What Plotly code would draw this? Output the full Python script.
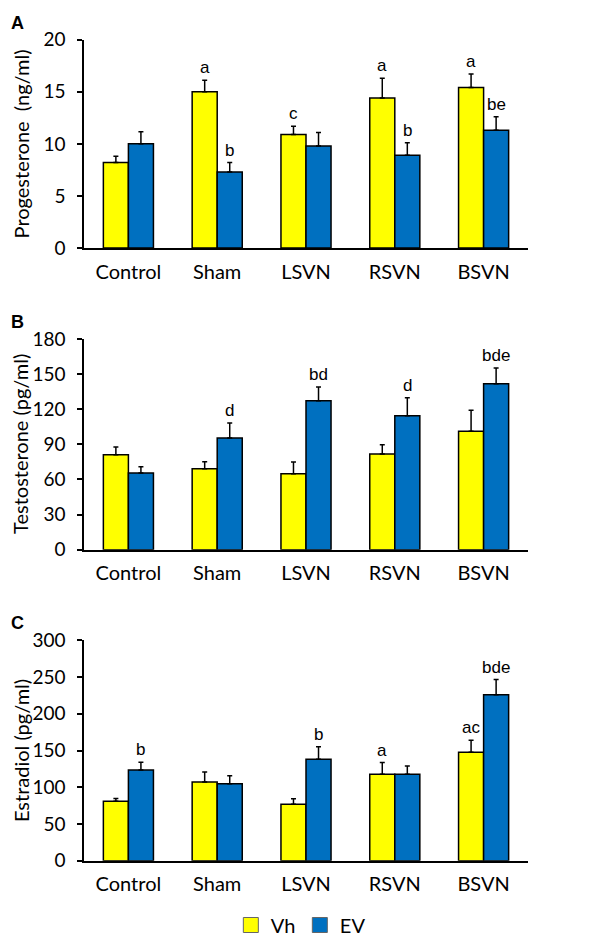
import plotly.graph_objects as go

# ---------------- data ----------------
categories = ["Control", "Sham", "LSVN", "RSVN", "BSVN"]
series_names = ["Vh", "EV"]

prog_vh = [8.2, 15.0, 10.9, 14.4, 15.4]
prog_vh_err = [0.6, 1.1, 0.8, 1.9, 1.3]
prog_ev = [10.0, 7.3, 9.8, 8.9, 11.3]
prog_ev_err = [1.15, 0.9, 1.3, 1.2, 1.3]
prog_vh_sig = ["", "a", "c", "a", "a"]
prog_ev_sig = ["", "b", "", "b", "be"]

testo_vh = [81.2, 69.2, 64.9, 81.7, 101.1]
testo_vh_err = [6.5, 6.0, 10.0, 8.0, 18.0]
testo_ev = [65.5, 95.4, 127.3, 114.5, 141.8]
testo_ev_err = [5.4, 12.8, 11.7, 15.4, 13.4]
testo_vh_sig = ["", "", "", "", ""]
testo_ev_sig = ["", "d", "bd", "d", "bde"]

estr_vh = [80.8, 107.1, 76.7, 117.6, 147.5]
estr_vh_err = [4.0, 13.6, 7.7, 16.0, 16.4]
estr_ev = [123.5, 104.9, 138.0, 117.6, 226.0]
estr_ev_err = [10.4, 10.9, 17.2, 11.3, 20.5]
estr_vh_sig = ["", "", "", "a", "ac"]
estr_ev_sig = ["b", "", "b", "", "bde"]

panel_titles = ["Progesterone  (ng/ml)", "Testosterone (pg/ml)", "Estradiol (pg/ml)"]
panel_letters = ["A", "B", "C"]
y_ranges = [[0, 20], [0, 180], [0, 300]]
y_dticks = [5, 30, 50]

# ---------------- style ----------------
W, H = 600, 936
ML, MR = 76, 79.5
PW = W - ML - MR
YELLOW = "#FFFF00"
BLUE = "#0070C0"
XTICK_FONT = dict(family="Lato", size=20, color="black")
YTICK_FONT = dict(family="Lato", size=19, color="black")
TITLE_FONT = dict(family="Lato", size=20, color="black")
SIG_FONT = dict(family="Liberation Sans", size=17, color="black")
LETTER_FONT = dict(family="Liberation Sans", size=18, color="black")
BW = 0.282  # bar width in category units

# panel plot areas in pixels (top, bottom)
panel_px = [(31.7, 240.0), (331.0, 541.7), (632.3, 852.7)]

panels = [
    (prog_vh, prog_vh_err, prog_ev, prog_ev_err, prog_vh_sig, prog_ev_sig),
    (testo_vh, testo_vh_err, testo_ev, testo_ev_err, testo_vh_sig, testo_ev_sig),
    (estr_vh, estr_vh_err, estr_ev, estr_ev_err, estr_vh_sig, estr_ev_sig),
]

idx = list(range(len(categories)))
fig = go.Figure()
annotations = []
layout_axes = {}

for k, (vh, vh_err, ev, ev_err, vh_sig, ev_sig) in enumerate(panels):
    xa = "x" if k == 0 else f"x{k+1}"
    ya = "y" if k == 0 else f"y{k+1}"
    for vals, errs, color, off in ((vh, vh_err, YELLOW, -BW), (ev, ev_err, BLUE, 0.0)):
        fig.add_trace(go.Bar(
            x=idx, y=vals, width=BW, offset=off,
            marker=dict(color=color, line=dict(color="black", width=1.5)),
            error_y=dict(type="data", array=errs, arrayminus=[0] * len(errs),
                         symmetric=False, color="black", thickness=1.5, width=2.5),
            xaxis=xa, yaxis=ya, showlegend=False, hoverinfo="skip",
        ))
    for sigs, vals, errs, shift in ((vh_sig, vh, vh_err, -BW / 2), (ev_sig, ev, ev_err, BW / 2)):
        for i, s in enumerate(sigs):
            if s:
                annotations.append(dict(
                    x=i + shift, y=vals[i] + errs[i], xref=xa, yref=ya,
                    text=s, showarrow=False, yanchor="bottom", xanchor="center",
                    yshift=1, font=SIG_FONT,
                ))
    top, bot = panel_px[k]
    dom = [1 - bot / H, 1 - top / H]
    xkey = "xaxis" if k == 0 else f"xaxis{k+1}"
    ykey = "yaxis" if k == 0 else f"yaxis{k+1}"
    layout_axes[xkey] = dict(
        domain=[0, 1], anchor=ya, range=[-0.5, len(categories) - 0.5],
        tickmode="array", tickvals=idx, ticktext=categories,
        showline=True, linecolor="black", linewidth=1.5, ticks="",
        tickfont=XTICK_FONT, ticklabelstandoff=5,
        showgrid=False, zeroline=False, fixedrange=True,
    )
    layout_axes[ykey] = dict(
        domain=dom, anchor=xa, range=y_ranges[k], dtick=y_dticks[k], tick0=0,
        showline=True, linecolor="black", linewidth=1.5, ticks="outside",
        ticklen=5, tickwidth=1.5, tickcolor="black", tickfont=YTICK_FONT,
        ticklabelstandoff=8, showgrid=False, zeroline=False, fixedrange=True,
    )
    # y-axis title
    annotations.append(dict(
        x=(12.5 - ML) / PW, y=1 - (top + bot) / 2 / H, xref="paper", yref="paper",
        text=panel_titles[k], textangle=-90, showarrow=False,
        xanchor="center", yanchor="middle", font=TITLE_FONT,
    ))
    # panel letter
    annotations.append(dict(
        x=(1 - ML) / PW, y=1 - (top - 17) / H, xref="paper", yref="paper",
        text="<b>" + panel_letters[k] + "</b>", showarrow=False,
        xanchor="left", yanchor="middle", font=LETTER_FONT,
    ))

# legend entries
for name, color in zip(series_names, (YELLOW, BLUE)):
    fig.add_trace(go.Scatter(
        x=[None], y=[None], mode="markers", name=name,
        marker=dict(symbol="square", size=15, color=color, line=dict(color="#666666", width=1)),
        xaxis="x3", yaxis="y3", showlegend=True,
    ))

fig.update_layout(
    width=W, height=H,
    margin=dict(l=ML, r=MR, t=0, b=0, autoexpand=False),
    paper_bgcolor="white", plot_bgcolor="white",
    barmode="overlay",
    annotations=annotations,
    showlegend=True,
    legend=dict(orientation="h", x=(223 - ML) / PW, xanchor="left",
                y=1 - 917 / H, yanchor="middle", font=dict(family="Lato", size=20, color="black"),
                entrywidth=24, bgcolor="rgba(0,0,0,0)", itemclick=False),
    **layout_axes,
)

fig.write_html("out.html")
